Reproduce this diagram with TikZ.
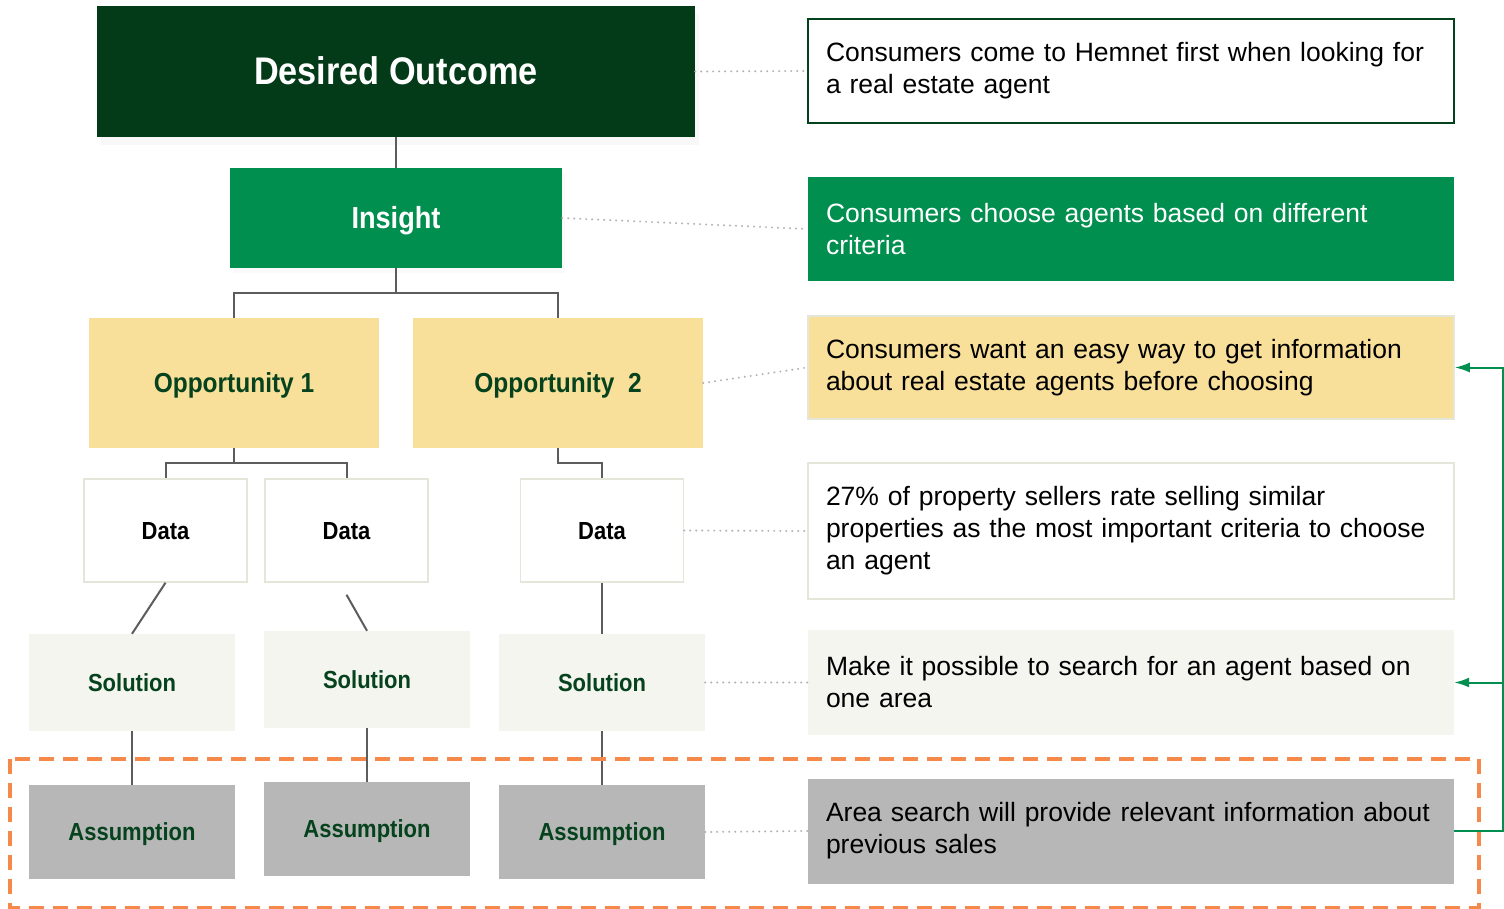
\documentclass[tikz,border=0pt]{standalone}
\usepackage{fontspec}
\setmainfont{Liberation Sans}
\newfontfamily\boxfont{Liberation Sans}[FakeStretch=0.89]
\usetikzlibrary{arrows.meta,shadows}
\definecolor{deepgreen}{HTML}{033A18}
\definecolor{hemgreen}{HTML}{008F4F}
\definecolor{labelgreen}{HTML}{05421D}
\definecolor{sand}{HTML}{F8E09A}
\definecolor{paleline}{HTML}{E4E6DA}
\definecolor{paper}{HTML}{F4F5EF}
\definecolor{stone}{HTML}{B6B7B6}
\definecolor{wire}{HTML}{5C5C5C}
\definecolor{flame}{HTML}{F5894A}
\begin{document}
\begin{tikzpicture}[x=1pt,y=-1pt,
  every node/.style={rectangle,inner sep=0pt},
  outcome/.style={fill=deepgreen,text=white,font=\boxfont\bfseries\fontsize{38.5}{44}\selectfont,text height=27pt,text depth=0pt,minimum width=598,minimum height=131,drop shadow={shadow xshift=4pt,shadow yshift=-8pt,opacity=0.05}},
  insight/.style={fill=hemgreen,text=white,font=\boxfont\bfseries\fontsize{30.5}{36}\selectfont,text height=21.5pt,text depth=0pt,minimum width=332,minimum height=100,drop shadow={shadow xshift=3pt,shadow yshift=-5pt,opacity=0.04}},
  opportunity/.style={fill=sand,text=labelgreen,font=\boxfont\bfseries\fontsize{27.5}{32}\selectfont,text height=19.8pt,text depth=0pt,minimum width=290,minimum height=130},
  data/.style={fill=white,draw=paleline,line width=1.5,font=\boxfont\bfseries\fontsize{24.7}{29}\selectfont,text height=17.7pt,text depth=0pt,minimum width=163,minimum height=103},
  solution/.style={fill=paper,text=labelgreen,font=\boxfont\bfseries\fontsize{24.7}{29}\selectfont,text height=17.7pt,text depth=0pt,minimum width=206,minimum height=97},
  assumption/.style={fill=stone,text=labelgreen,font=\boxfont\bfseries\fontsize{24.7}{29}\selectfont,text height=17.7pt,text depth=0pt,minimum width=206,minimum height=94},
  note/.style={minimum width=646,minimum height=#1,text width=610,inner xsep=18,align=left,font=\fontsize{26.5}{32}\selectfont},
  tree/.style={draw=wire,line width=2},
  link/.style={draw=gray!60,line width=2.2,line cap=round,dash pattern=on 0pt off 6pt},
  feedback/.style={draw=hemgreen,line width=2},
  assumptions/.style={draw=flame,line width=3.5,dash pattern=on 15pt off 9pt}]
\useasboundingbox[fill=white] (0,0) rectangle (1504,909);

\node[outcome] (outcome) at (396,71.5) {Desired Outcome};
\node[insight] (insight) at (396,218) {Insight};
\node[opportunity] (opp1) at (234,383) {Opportunity 1};
\node[opportunity] (opp2) at (558,383) {Opportunity\ \ 2};
\node[data] (data1) at (165.5,530.5) {Data};
\node[data] (data2) at (346.5,530.5) {Data};
\node[data] (data3) at (602,530.5) {Data};
\node[solution] (sol1) at (132,682.5) {Solution};
\node[solution] (sol2) at (367,679.5) {Solution};
\node[solution] (sol3) at (602,682.5) {Solution};
\node[assumption] (ass1) at (132,832) {Assumption};
\node[assumption] (ass2) at (367,829) {Assumption};
\node[assumption] (ass3) at (602,832) {Assumption};

\node[note=104,draw=deepgreen!90!hemgreen,line width=2,fill=white] (goal) at (1131,71) {Consumers come to Hemnet first when looking for\\a real estate agent};
\node[note=104,fill=hemgreen,text=white] (finding) at (1131,229) {Consumers choose agents based on different\\criteria};
\node[note=103,fill=sand,draw=paleline,line width=1.5] (need) at (1131,367.5) {Consumers want an easy way to get information\\about real estate agents before choosing};
\node[note=136,fill=white,draw=paleline,line width=1.5] (fact) at (1131,531) {27\% of property sellers rate selling similar\\properties as the most important criteria to choose\\an agent};
\node[note=105,fill=paper] (idea) at (1131,682.5) {Make it possible to search for an agent based on\\one area};
\node[note=105,fill=stone] (bet) at (1131,831) {Area search will provide relevant information about\\previous sales};

\draw[tree] (outcome.south) -- (insight.north);
\draw[tree] (insight.south) -- ++(0,25) -| (opp1.north);
\draw[tree] (insight.south) -- ++(0,25) -| (opp2.north);
\draw[tree] (opp1.south) -- ++(0,15) -| (data1.north);
\draw[tree] (opp1.south) -- ++(0,15) -| (data2.north);
\draw[tree] (opp2.south) -- ++(0,15) -| (data3.north);
\draw[tree] (data1.south) -- (sol1.north);
\draw[tree] ([yshift=-12pt]data2.south) -- (sol2.north);
\draw[tree] (data3.south) -- (sol3.north);
\draw[tree] (sol1.south) -- (ass1.north);
\draw[tree] (sol2.south) -- (ass2.north);
\draw[tree] (sol3.south) -- (ass3.north);

\draw[link] (outcome.east) -- (goal.west);
\draw[link] (insight.east) -- (finding.west);
\draw[link] (opp2.east) -- (need.west);
\draw[link] (data3.east) -- (fact.west);
\draw[link] (sol3.east) -- (idea.west);
\draw[link] (ass3.east) -- (bet.west);

\draw[assumptions] (10,759) rectangle (1479,908);

\coordinate (loop) at (1503,831);
\draw[feedback,-{Latex[length=15pt,width=10pt]}] (bet.east) -- (loop) |- (need.east);
\draw[feedback,-{Latex[length=15pt,width=10pt]}] (loop |- idea.east) -- (idea.east);
\end{tikzpicture}
\end{document}
